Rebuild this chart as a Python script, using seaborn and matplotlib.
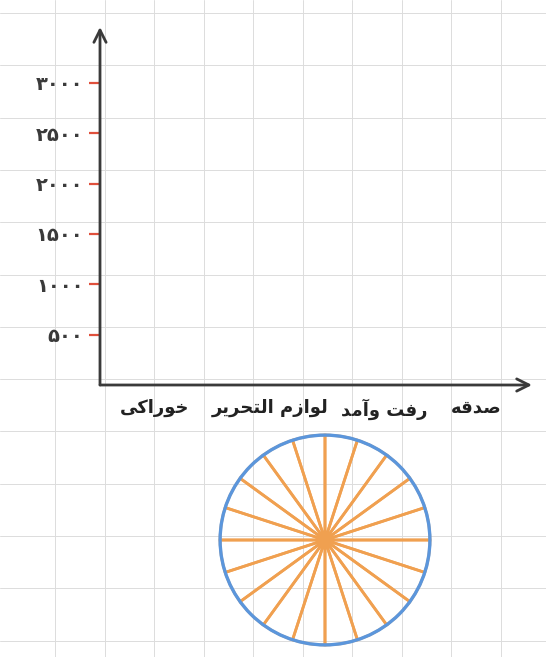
import numpy as np
import matplotlib
matplotlib.use("Agg")
import matplotlib.pyplot as plt
import seaborn as sns

# worksheet data: categories left to right, bars are left blank (to be filled in)
categories = ["خوراکی", "لوازم التحریر", "رفت وآمد", "صدقه"]
amounts = [0, 0, 0, 0]
y_ticks = [500, 1000, 1500, 2000, 2500, 3000]
y_tick_labels = ["۵۰۰", "۱۰۰۰", "۱۵۰۰", "۲۰۰۰", "۲۵۰۰", "۳۰۰۰"]
circle_parts = [1] * 20

# Arabic presentation forms: (isolated, final, initial, medial)
FORMS = {
    "ا": (0xFE8D, 0xFE8E, None, None),
    "آ": (0xFE81, 0xFE82, None, None),
    "د": (0xFEA9, 0xFEAA, None, None),
    "ر": (0xFEAD, 0xFEAE, None, None),
    "ز": (0xFEAF, 0xFEB0, None, None),
    "و": (0xFEED, 0xFEEE, None, None),
    "خ": (0xFEA5, 0xFEA6, 0xFEA7, 0xFEA8),
    "ح": (0xFEA1, 0xFEA2, 0xFEA3, 0xFEA4),
    "ت": (0xFE95, 0xFE96, 0xFE97, 0xFE98),
    "ل": (0xFEDD, 0xFEDE, 0xFEDF, 0xFEE0),
    "م": (0xFEE1, 0xFEE2, 0xFEE3, 0xFEE4),
    "ف": (0xFED1, 0xFED2, 0xFED3, 0xFED4),
    "ص": (0xFEB9, 0xFEBA, 0xFEBB, 0xFEBC),
    "ق": (0xFED5, 0xFED6, 0xFED7, 0xFED8),
    "ه": (0xFEE9, 0xFEEA, 0xFEEB, 0xFEEC),
    "ک": (0xFB8E, 0xFB8F, 0xFB90, 0xFB91),
    "ی": (0xFBFC, 0xFBFD, 0xFBFE, 0xFBFF),
}


def shape(text):
    """Join Persian letters and put them in visual (left to right) order."""
    out = []
    for i, c in enumerate(text):
        if c not in FORMS:
            out.append(c)
            continue
        forms = FORMS[c]
        prev = text[i - 1] if i > 0 else None
        nxt = text[i + 1] if i < len(text) - 1 else None
        jp = prev in FORMS and FORMS[prev][2] is not None
        jn = forms[2] is not None and nxt in FORMS
        if jp and jn:
            code = forms[3]
        elif jp:
            code = forms[1]
        elif jn:
            code = forms[2]
        else:
            code = forms[0]
        out.append(chr(code))
    return "".join(reversed(out))


sns.set_theme(style="white")
plt.rcParams["font.family"] = ["DejaVu Sans"]

W, H = 546, 657
fig = plt.figure(figsize=(W / 100, H / 100), dpi=100)
fig.patch.set_facecolor("white")


def px_axes(x0, y0, x1, y1):
    # pixel box (top-left origin) -> figure fraction
    return [x0 / W, 1 - y1 / H, (x1 - x0) / W, (y1 - y0) / H]


# grid paper background
bg = fig.add_axes([0, 0, 1, 1])
bg.set_xlim(0, W)
bg.set_ylim(H, 0)
bg.axis("off")
for gx in np.arange(55, W, 49.5):
    bg.axvline(gx, color="#dcdcdc", lw=0.7)
for gy in np.arange(13, H, 52.3):
    bg.axhline(gy, color="#dcdcdc", lw=0.7)

# bar chart frame
ax = fig.add_axes(px_axes(100, 27, 532, 385))
ax.patch.set_alpha(0)
sns.barplot(x=categories, y=amounts, ax=ax, color="#5b96dc")
ax.set_xlim(-0.51, 3.52)
ax.set_ylim(0, 3556)
for s in ax.spines.values():
    s.set_visible(False)
arrow = dict(arrowstyle="->", lw=2, color="#3a3a3a", mutation_scale=22, shrinkA=0, shrinkB=0)
ax.annotate("", xy=(0, 1), xytext=(0, 0), xycoords="axes fraction", arrowprops=arrow)
ax.annotate("", xy=(1, 0), xytext=(0, 0), xycoords="axes fraction", arrowprops=arrow)
ax.set_yticks(y_ticks)
ax.set_yticklabels(y_tick_labels, fontsize=14, fontweight="bold", color="#3a3a3a")
ax.tick_params(axis="y", direction="out", length=8, width=1.6, color="#e0503c", pad=4, left=True)
# label spacing as printed on the worksheet
ax.set_xticks([0, 1.08, 2.14, 3.0])
ax.set_xticklabels([shape(c) for c in categories], fontsize=13, fontweight="bold", color="#222222")
ax.tick_params(axis="x", length=0, pad=10)
ax.set_xlabel("")
ax.set_ylabel("")

# circle split into 20 equal parts
pax = fig.add_axes(px_axes(218, 433, 432, 647))
pax.pie(circle_parts, startangle=90, radius=1,
        wedgeprops=dict(facecolor="none", edgecolor="#f0a050", linewidth=2))
pax.add_patch(plt.Circle((0, 0), 1, fill=False, edgecolor="#5b96dc", lw=2.4))
pax.set_xlim(-1.02, 1.02)
pax.set_ylim(-1.02, 1.02)
pax.set_aspect("equal")
pax.axis("off")

fig.savefig("out.png", dpi=100)
